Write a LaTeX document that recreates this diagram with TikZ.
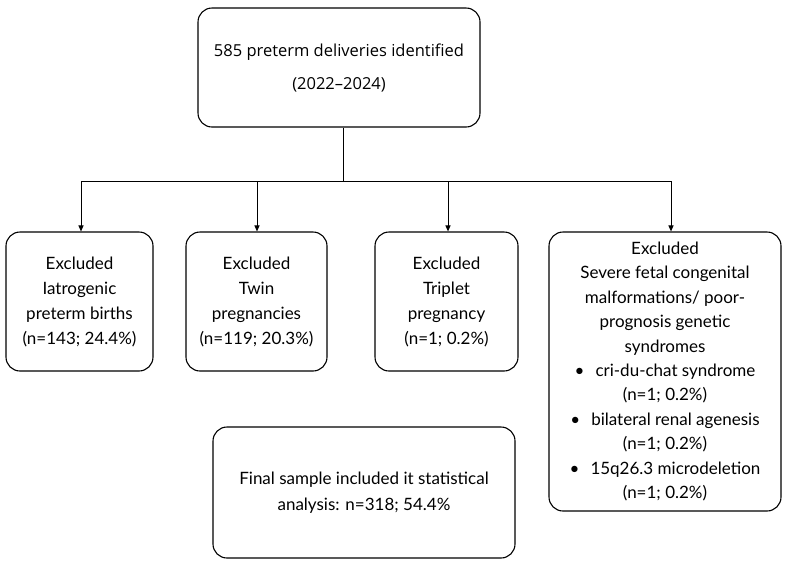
\documentclass[tikz,border=0pt]{standalone}
\usepackage{fontspec}
\setmainfont{Lato}
\newfontfamily\topfont[Ligatures=TeX]{Open Sans}
\usetikzlibrary{arrows.meta}
\tikzset{
  box/.style={draw, rounded corners=14pt, line width=1.1pt, align=center, inner sep=0pt, font=\fontsize{17}{25}\selectfont},
  link/.style={-{Triangle[length=6pt, width=5pt]}, line width=1pt},
  wire/.style={line width=1pt},
}
\newcommand\itm{\textbullet\hspace{11pt}}
\begin{document}
\begin{tikzpicture}[x=1pt, y=-1pt]
  \useasboundingbox (0,0) rectangle (789,566);
  \node[box, minimum width=282pt, minimum height=119pt, font=\topfont\fontsize{16.5}{33}\selectfont] (top) at (339,67.5) {585 preterm deliveries identified\\(2022--2024)};
  \node[box, minimum width=147pt, minimum height=139pt] (iat) at (79.5,301.5) {Excluded\\Iatrogenic\\preterm births\\(n=143; 24.4\%)};
  \node[box, minimum width=141pt, minimum height=139pt] (twin) at (256.5,301.5) {Excluded\\Twin\\pregnancies\\(n=119; 20.3\%)};
  \node[box, minimum width=143pt, minimum height=139pt] (trip) at (446.5,301.5) {Excluded\\Triplet\\pregnancy\\(n=1; 0.2\%)};
  \node[box, minimum width=232pt, minimum height=279pt, font=\fontsize{17}{24.4}\selectfont] (malf) at (665,371.5) {Excluded\\Severe fetal congenital\\malformations/ poor-\\prognosis genetic\\syndromes\\\itm cri-du-chat syndrome\\(n=1; 0.2\%)\\\itm bilateral renal agenesis\\(n=1; 0.2\%)\\\itm 15q26.3 microdeletion\\(n=1; 0.2\%)};
  \node[box, minimum width=302pt, minimum height=131pt, font=\fontsize{17}{26}\selectfont] (final) at (364,492.5) {Final sample included it statistical\\analysis: n=318; 54.4\%};
  \coordinate (hub) at (343,181);
  \coordinate (t1) at (81,181);
  \coordinate (t2) at (257,181);
  \coordinate (t3) at (448,181);
  \coordinate (t4) at (671,181);
  \draw[wire] (hub |- top.south) -- (hub);
  \draw[wire] (t1) -- (t4);
  \draw[link] (t1) -- (t1 |- iat.north);
  \draw[link] (t2) -- (t2 |- twin.north);
  \draw[link] (t3) -- (t3 |- trip.north);
  \draw[link] (t4) -- (t4 |- malf.north);
\end{tikzpicture}
\end{document}
